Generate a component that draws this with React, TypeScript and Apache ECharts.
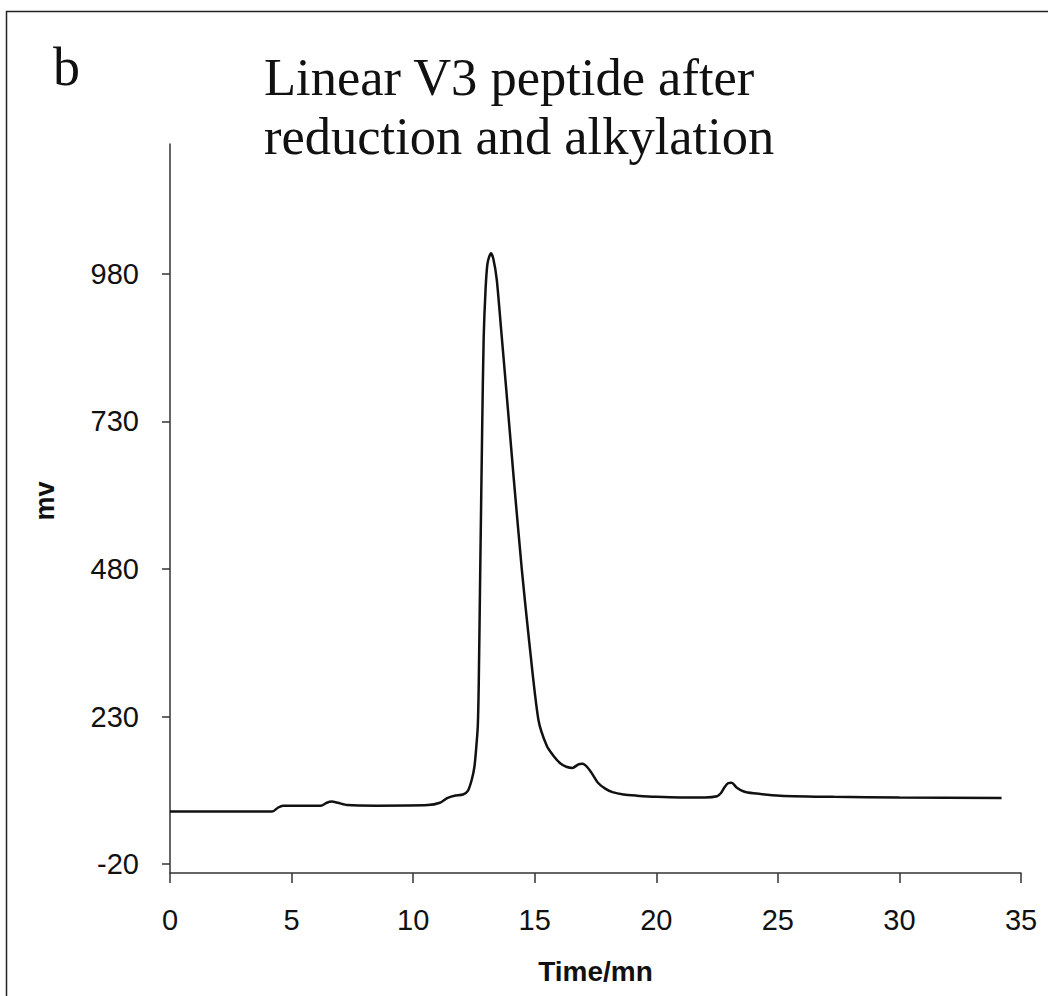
import React, { useEffect, useRef } from "react";
import * as echarts from "echarts";

const timeMin: number[] = [
  0, 4.2, 4.45, 4.65, 6.2, 6.45, 6.65, 6.9, 7.3, 8.5, 10.6, 11.1, 11.4, 11.7, 12.05, 12.25,
  12.41, 12.52, 12.6, 12.66, 12.7, 12.76, 12.84, 12.9, 12.98, 13.06, 13.2, 13.3, 13.44,
  13.62, 13.83, 14.13, 14.47, 14.75, 15.15, 15.5,
  15.8, 16.05, 16.3, 16.55, 16.8, 16.94, 17.1, 17.3, 17.6, 17.9, 18.2, 18.65, 19.2, 20.0,
  21.0, 22.0, 22.5, 22.65, 22.8, 22.95, 23.1, 23.3, 23.6, 24.0, 25.1, 27.3, 30.0, 34.2,
];
const signalMv: number[] = [
  69, 69, 76, 79, 79, 84, 86, 84, 80, 79, 80, 84, 92, 96, 98, 104,
  123, 145, 180, 215, 290, 480, 720, 870, 955, 998, 1015, 1005, 970,
  885, 784, 637, 479, 366, 225, 180,
  162, 151, 145, 143, 149, 150, 147, 137, 118, 108, 102, 98, 96, 94,
  93, 93, 95, 100, 110, 117, 118, 110, 103, 100, 96, 94, 93, 92,
];
const yTickValues: number[] = [-20, 230, 480, 730, 980];
const xTickInterval = 5;

const titleLines: string[] = ["Linear V3 peptide after", "reduction and alkylation"];
const panelLabel = "b";
const xName = "Time/mn";
const yName = "mv";

export default function App() {
  const ref = useRef<HTMLDivElement>(null);
  useEffect(() => {
    if (!ref.current) return;
    const chart = echarts.init(ref.current, null, { renderer: "svg" });
    const data = timeMin.map((t, i) => [t, signalMv[i]]);
    const axisColor = "#333";
    const sans = "'Liberation Sans', Arial, sans-serif";
    chart.setOption({
      animation: false,
      backgroundColor: "#ffffff",
      grid: { left: 170, right: 27, top: 144, bottom: 123, containLabel: false },
      graphic: [
        { type: "line", shape: { x1: 6.5, y1: 11, x2: 6.5, y2: 1000 }, style: { stroke: "#222", lineWidth: 1.5 } },
        { type: "line", shape: { x1: 6, y1: 11.5, x2: 1050, y2: 11.5 }, style: { stroke: "#222", lineWidth: 1.5 } },
        {
          type: "text",
          left: 53,
          top: 40,
          style: { text: panelLabel, font: "54px 'Liberation Serif', 'Times New Roman', serif", fill: "#111" },
        },
        {
          type: "text",
          left: 264,
          top: 47,
          style: {
            text: titleLines.join("\n"),
            font: "52.5px 'Liberation Serif', 'Times New Roman', serif",
            lineHeight: 59,
            fill: "#111",
          },
        },
        {
          type: "text",
          x: 45,
          y: 501,
          rotation: Math.PI / 2,
          style: {
            text: yName,
            font: `bold 27px ${sans}`,
            fill: "#111",
            align: "center",
            verticalAlign: "middle",
          },
        },
      ],
      xAxis: {
        type: "value",
        min: 0,
        max: 35,
        interval: xTickInterval,
        name: xName,
        nameLocation: "middle",
        nameGap: 84,
        nameTextStyle: { fontFamily: sans, fontSize: 28, fontWeight: "bold", color: "#111" },
        axisLine: { show: true, onZero: false, lineStyle: { color: axisColor, width: 1.5 } },
        axisTick: { show: true, inside: false, length: 10, lineStyle: { color: axisColor, width: 1.5 } },
        axisLabel: { margin: 32, fontFamily: sans, fontSize: 29, color: "#111" },
        splitLine: { show: false },
      },
      yAxis: {
        type: "value",
        min: -35,
        max: 1200,
        axisLine: { show: true, onZero: false, lineStyle: { color: axisColor, width: 1.5 } },
        axisTick: { show: true, inside: false, length: 8, customValues: yTickValues, lineStyle: { color: axisColor, width: 1.5 } },
        axisLabel: {
          margin: 31,
          customValues: yTickValues,
          fontFamily: sans,
          fontSize: 29,
          color: "#111",
        },
        splitLine: { show: false },
      },
      series: [
        {
          type: "line",
          data,
          showSymbol: false,
          smooth: 0.25,
          lineStyle: { color: "#111", width: 2.5 },
        },
      ],
    });
    return () => chart.dispose();
  }, []);
  return (
    <div
      ref={ref}
      style={{ position: "fixed", left: 0, top: 0, width: 1048, height: 996, background: "#fff" }}
    />
  );
}
